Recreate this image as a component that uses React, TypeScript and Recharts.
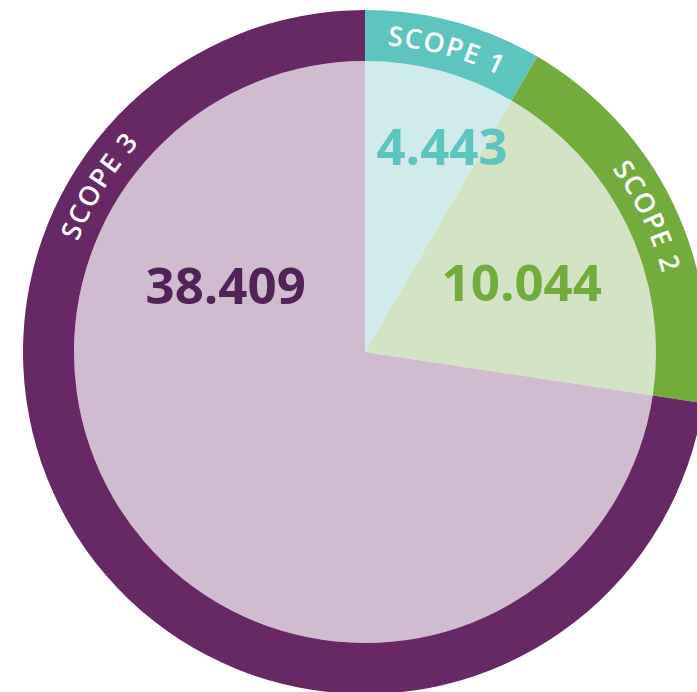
import React from "react";
import { PieChart, Pie, Cell } from "recharts";

const scopes = ["SCOPE 1", "SCOPE 2", "SCOPE 3"];
const values = [4.443, 10.044, 38.409];
const valueLabels = ["4.443", "10.044", "38.409"];
const ringColors = ["#5EC4C0", "#72AC3C", "#682866"];
const fillColors = ["#CFEBEB", "#D3E4C5", "#D1BBD0"];
const textColors = ["#5EC4C0", "#72AC3C", "#522358"];

// label layout (clock angle in degrees from 12 o'clock, radius)
const valueLabelAngles = [20.4, 65.7, 296];
const valueLabelRadii = [221, 172, 155];
const ringLabelAngles: (number | null)[] = [null, null, 302];

const data = scopes.map((s, i) => ({ name: s, value: values[i], label: valueLabels[i] }));

const FONT = "'Open Sans', sans-serif";

function polar(cx: number, cy: number, r: number, clockDeg: number) {
  const a = (clockDeg * Math.PI) / 180;
  return { x: cx + r * Math.sin(a), y: cy - r * Math.cos(a) };
}

function toClock(recDeg: number) {
  return 90 - recDeg;
}

const renderValueLabel = (props: any) => {
  const { cx, cy, index } = props;
  const p = polar(cx, cy, valueLabelRadii[index], valueLabelAngles[index]);
  return (
    <text
      key={"v" + index}
      x={p.x}
      y={p.y}
      textAnchor="middle"
      dominantBaseline="central"
      fill={textColors[index]}
      fontFamily={FONT}
      fontWeight={700}
      fontSize={51}
    >
      {valueLabels[index]}
    </text>
  );
};

const renderRingLabel = (props: any) => {
  const { cx, cy, index, innerRadius, outerRadius, midAngle } = props;
  const center = ringLabelAngles[index] ?? toClock(midAngle);
  const r = (innerRadius + outerRadius) / 2 - 9;
  const span = 45;
  const s = polar(cx, cy, r, center - span);
  const e = polar(cx, cy, r, center + span);
  const id = "ringpath" + index;
  return (
    <g key={"r" + index}>
      <path id={id} d={`M ${s.x} ${s.y} A ${r} ${r} 0 0 1 ${e.x} ${e.y}`} fill="none" stroke="none" />
      <text
        fill="#FFFFFF"
        fontFamily={FONT}
        fontWeight={600}
        fontSize={27}
        letterSpacing={1.5}
      >
        <textPath href={"#" + id} startOffset="50%" textAnchor="middle">
          {scopes[index]}
        </textPath>
      </text>
    </g>
  );
};

export default function App() {
  return (
    <div style={{ position: "fixed", left: 0, top: 0, width: 697, height: 692, overflow: "hidden", background: "#fff" }}>
      <PieChart width={697} height={692} margin={{ top: 0, right: 0, bottom: 0, left: 0 }}>
        <Pie
          data={data}
          dataKey="value"
          cx={365}
          cy={352}
          innerRadius={0}
          outerRadius={291}
          startAngle={90}
          endAngle={-270}
          stroke="none"
          isAnimationActive={false}
          label={renderValueLabel}
          labelLine={false}
        >
          {data.map((d, i) => (
            <Cell key={d.name} fill={fillColors[i]} />
          ))}
        </Pie>
        <Pie
          data={data}
          dataKey="value"
          cx={365}
          cy={352}
          innerRadius={291}
          outerRadius={342}
          startAngle={90}
          endAngle={-270}
          stroke="none"
          isAnimationActive={false}
          label={renderRingLabel}
          labelLine={false}
        >
          {data.map((d, i) => (
            <Cell key={d.name} fill={ringColors[i]} />
          ))}
        </Pie>
      </PieChart>
    </div>
  );
}
